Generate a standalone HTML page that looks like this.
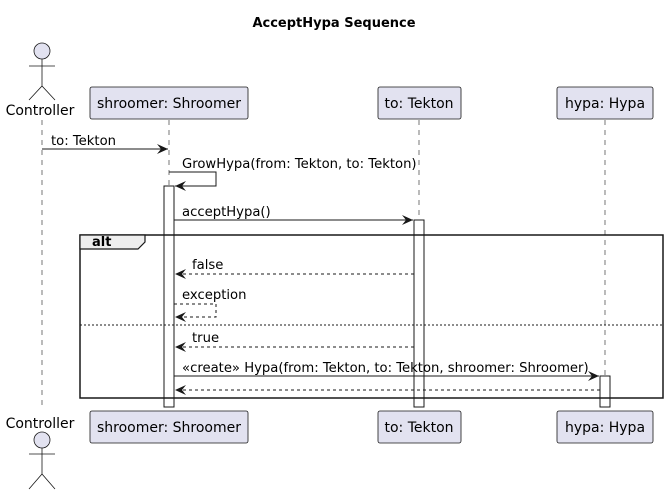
<!DOCTYPE html>
<html><head><meta charset="utf-8"><style>body{margin:0;background:#fff}svg{display:block}</style></head><body>
<svg width="668" height="495" viewBox="0 0 668 495" xmlns="http://www.w3.org/2000/svg" font-family="DejaVu Sans, Liberation Sans, sans-serif" font-size="12">
<defs><marker id="a" markerWidth="12" markerHeight="10" refX="11" refY="5" orient="auto" markerUnits="userSpaceOnUse"><path d="M0,0 L11,5 L0,10 L4,5 Z" fill="#181818"/></marker></defs>
<text x="334" y="27" text-anchor="middle" font-weight="bold" font-size="13">AcceptHypa Sequence</text>
<g stroke="#555" stroke-dasharray="5,5" stroke-width="0.8">
<line x1="42" y1="120" x2="42" y2="410"/><line x1="169" y1="120" x2="169" y2="410"/><line x1="419" y1="120" x2="419" y2="410"/><line x1="605" y1="120" x2="605" y2="410"/></g>
<g fill="#e2e2f0" stroke="#181818" stroke-width="0.8">
<rect x="90" y="87" width="158" height="32" rx="2"/><rect x="378" y="87" width="83" height="32" rx="2"/><rect x="557" y="87" width="96" height="32" rx="2"/>
<rect x="90" y="411" width="158" height="32" rx="2"/><rect x="378" y="411" width="83" height="32" rx="2"/><rect x="557" y="411" width="96" height="32" rx="2"/>
<circle cx="42" cy="51" r="8"/><circle cx="42" cy="440" r="8"/></g>
<g stroke="#181818" fill="none" stroke-width="0.8">
<path d="M42,59 V86 M29,66 H55 M29,100 L42,86 L55,100"/>
<path d="M42,448 V474 M29,454 H55 M29,489 L42,474 L55,489"/></g>
<g font-size="14" text-anchor="middle">
<text x="40" y="115">Controller</text><text x="40" y="428">Controller</text>
<text x="169" y="108">shroomer: Shroomer</text><text x="169" y="432">shroomer: Shroomer</text>
<text x="419" y="108">to: Tekton</text><text x="419" y="432">to: Tekton</text>
<text x="605" y="108">hypa: Hypa</text><text x="605" y="432">hypa: Hypa</text></g>
<g fill="#fff" stroke="#181818" stroke-width="1">
<rect x="164" y="186" width="10" height="221"/><rect x="414" y="220" width="10" height="187"/><rect x="600" y="376" width="10" height="31"/></g>
<g stroke="#181818" stroke-width="1.5" fill="none"><rect x="80" y="235" width="583" height="163"/></g>
<path d="M80,235 H145 V242 L138,249 H80 Z" fill="#eee" stroke="#181818" stroke-width="1.2"/>
<text x="92" y="246" font-weight="bold" font-size="13">alt</text>
<line x1="80" y1="325" x2="663" y2="325" stroke="#181818" stroke-dasharray="2,2"/>
<g stroke="#181818" fill="none" stroke-width="1">
<line x1="42" y1="149" x2="168" y2="149" marker-end="url(#a)"/>
<path d="M169,172 H216 V186 H175" marker-end="url(#a)"/>
<line x1="174" y1="220" x2="413" y2="220" marker-end="url(#a)"/>
<line x1="414" y1="274" x2="175" y2="274" stroke-dasharray="3,3" marker-end="url(#a)"/>
<path d="M174,304 H216 V317 H175" stroke-dasharray="3,3" marker-end="url(#a)"/>
<line x1="414" y1="347" x2="175" y2="347" stroke-dasharray="3,3" marker-end="url(#a)"/>
<line x1="174" y1="376" x2="599" y2="376" marker-end="url(#a)"/>
<line x1="600" y1="390" x2="175" y2="390" stroke-dasharray="3,3" marker-end="url(#a)"/>
</g>
<g font-size="13.2">
<text x="51" y="145">to: Tekton</text>
<text x="182" y="168">GrowHypa(from: Tekton, to: Tekton)</text>
<text x="182" y="216">acceptHypa()</text>
<text x="192" y="269">false</text>
<text x="182" y="299">exception</text>
<text x="192" y="342">true</text>
<text x="182" y="372">«create» Hypa(from: Tekton, to: Tekton, shroomer: Shroomer)</text>
</g>
</svg>
</body></html>
